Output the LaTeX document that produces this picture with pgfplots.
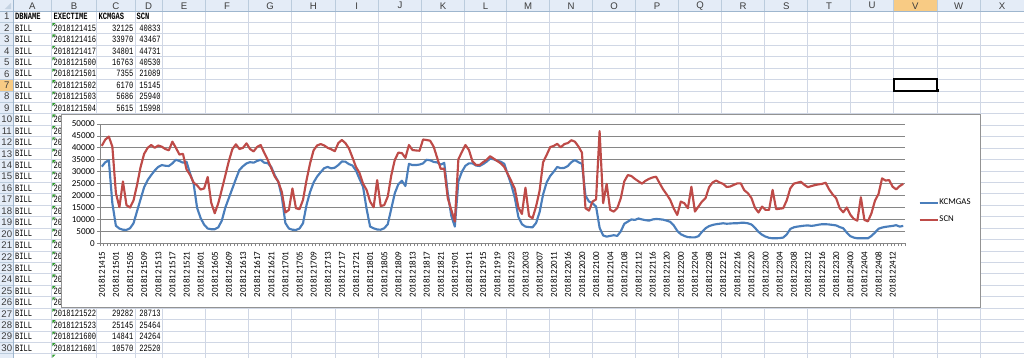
\documentclass[border=0pt]{standalone}
\usepackage{fontspec}
\usepackage{pgfplots}
\usepackage{pgfplotstable}
\pgfplotsset{compat=1.18}
\setmainfont{Carlito}
\newfontfamily\cellfont[FakeStretch=0.74]{Liberation Mono}
\newfontfamily\hdrfont{Liberation Sans}
\definecolor{kblue}{HTML}{4A7EBB}
\definecolor{sred}{HTML}{BE4B48}
\definecolor{xlgrid}{HTML}{D0D7E5}
\definecolor{xlhdr}{HTML}{E4ECF7}
\definecolor{xlhdrline}{HTML}{9EB6CE}
\definecolor{xlsel}{HTML}{F8CB84}
\definecolor{hdrtext}{HTML}{3C3C3C}
\definecolor{chgrid}{HTML}{868686}
\definecolor{xlgreen}{HTML}{2E9B2E}

\pgfplotstableread{
i k s
0 32125 40833
1 33970 43467
2 34801 44731
3 16763 40530
4 7355 21089
5 6170 15145
6 5686 25940
7 5615 15998
8 6300 15000
9 8400 18000
10 13500 24500
11 18500 32000
12 23500 37500
13 26500 40000
14 28600 41200
15 30500 40000
16 32000 41000
17 32800 40500
18 32500 39500
19 32400 39000
20 33500 42600
21 35000 40000
22 34500 37200
23 33800 37500
24 34200 31000
25 29282 28713
26 25145 25464
27 14841 24264
28 10570 22520
29 7800 23000
30 6200 27800
31 5900 17000
32 5900 12600
33 6700 16800
34 9500 22500
35 15000 28500
36 19000 34500
37 23000 39500
38 27000 41500
39 30800 39500
40 32300 40000
41 33500 41900
42 34000 39500
43 33800 38500
44 34500 40400
45 35000 41200
46 33800 38000
47 33600 35000
48 32000 31500
49 28500 28000
50 25800 25800
51 19500 21500
52 8500 12900
53 6200 14000
54 5700 23000
55 5600 14700
56 6200 14300
57 8400 18200
58 16100 26500
59 21500 33500
60 25500 39000
61 28000 41000
62 29800 41600
63 31500 41000
64 32000 40000
65 31400 39400
66 31700 38600
67 32800 42000
68 34300 43300
69 34200 42000
70 33200 39800
71 32600 36000
72 30500 32000
73 27000 29500
74 23700 25000
75 14500 22400
76 7000 17500
77 6300 15100
78 5800 26500
79 5700 15600
80 6300 16000
81 8000 19600
82 14500 28500
83 21000 35000
84 24800 38000
85 26200 37800
86 24000 35800
87 33300 41200
88 32800 39100
89 32800 38900
90 33000 38800
91 33500 43500
92 35000 43300
93 34800 43000
94 34100 40500
95 33900 35800
96 33000 31200
97 33700 31300
98 21000 18900
99 11500 14000
100 7000 9100
101 26000 35200
102 30000 38300
103 32500 41200
104 33500 39100
105 33500 34300
106 32600 32800
107 32400 32800
108 33200 34000
109 34200 35000
110 35500 36500
111 35200 35500
112 34600 34500
113 34200 33500
114 33300 32000
115 28800 29000
116 24500 26000
117 19000 22800
118 11000 15000
119 8000 12300
120 7000 23300
121 6800 11500
122 6700 10500
123 8500 15400
124 13000 22000
125 20500 34000
126 25500 37000
127 28200 40300
128 30000 40800
129 32000 41700
130 31500 40200
131 31600 41600
132 32400 42000
133 34000 43200
134 34900 42600
135 34000 40600
136 33300 38000
137 20000 14700
138 17500 13700
139 16800 17500
140 15400 18400
141 6500 47000
142 3300 16800
143 2800 24900
144 3100 14000
145 3400 13300
146 3100 14700
147 5000 18900
148 8200 26000
149 9100 28600
150 10000 28200
151 9800 27000
152 10400 26000
153 10000 25000
154 9700 26200
155 9500 27000
156 10000 27600
157 10200 27900
158 10100 25200
159 9900 22600
160 9500 20500
161 9000 18200
162 7500 14600
163 5200 11900
164 3800 17500
165 3100 16800
166 2600 14700
167 2500 23700
168 2500 13300
169 3000 15400
170 4800 17500
171 6300 18900
172 7200 23500
173 7700 25500
174 8000 26300
175 8200 25500
176 8400 24900
177 8200 23600
178 8300 23800
179 8400 24500
180 8400 25100
181 8600 25100
182 8600 22200
183 8400 21000
184 7900 19000
185 6500 14900
186 4800 12900
187 3600 15400
188 2800 14000
189 2300 14000
190 2100 22400
191 2100 14300
192 2200 14500
193 2400 14700
194 3700 18000
195 6000 23000
196 6700 25000
197 7000 25400
198 7200 25800
199 7400 24500
200 7500 23500
201 7300 24000
202 7500 24400
203 7800 24700
204 8000 24900
205 8000 25400
206 7900 22600
207 7700 20500
208 7500 18900
209 6800 14700
210 6300 13000
211 4500 15000
212 3000 12000
213 2400 10200
214 2100 9500
215 2100 19300
216 2100 9800
217 2100 9200
218 3100 12600
219 4500 17900
220 6100 20700
221 6600 27200
222 6900 26300
223 7100 26500
224 7300 23700
225 7600 22600
226 7000 24000
227 7300 24900
}\datatable

\newcommand\rowc[1]{10.9+(#1-0.5)*11.43}
\newcommand\rowt[1]{10.9+(#1-1)*11.43}
\newcommand\cellfs{\cellfont\fontsize{7.2}{8}\selectfont}

\begin{document}
\begin{tikzpicture}[x=0.75pt,y=-0.75pt]
\useasboundingbox (0,0) rectangle (1024,358);
\begin{scope}
\clip (0,0) rectangle (1024,358);
\fill[white] (0,0) rectangle (1024,358);
% headers
\fill[xlhdr] (0,0) rectangle (1024,10.9);
\fill[xlhdr] (0,0) rectangle (13,358);
\fill[xlsel] (893.7,0) rectangle (937,10.9);
\fill[xlsel] (0,{\rowt{7}}) rectangle (13,{\rowt{8}});
% sheet grid
\foreach \x in {51.7,96.7,135,162.3,205.7,248.3,291.7,335,378.3,421.7,464.3,506.7,549.3,592.7,635.3,678.7,721.3,764.7,807.7,850.3,893.7,937,980.3}
  {\draw[xlgrid, line width=0.6pt] (\x,10.9) -- (\x,358);
   \draw[xlhdrline!70, line width=0.6pt] (\x,0) -- (\x,10.9);}
\foreach \n in {2,...,32}
  {\draw[xlgrid, line width=0.6pt] (13,{\rowt{\n}}) -- (1024,{\rowt{\n}});
   \draw[xlhdrline!70, line width=0.6pt] (0,{\rowt{\n}}) -- (13,{\rowt{\n}});}
\draw[xlhdrline, line width=0.6pt] (0,10.9) -- (1024,10.9);
\draw[xlhdrline, line width=0.6pt] (13,0) -- (13,358);
\fill[xlhdrline!60] (11,9) -- (11,3) -- (4.8,9) -- cycle;
% column letters
\foreach \l/\c in {A/32.35,B/74.2,C/115.85,D/148.65,E/184,F/227,G/270,H/313.35,I/356.65,J/400,K/443,L/485.5,M/528,N/571,O/614,P/657,Q/700,R/743,S/786.2,T/829,U/872,V/915.35,W/958.65,X/1002}
  \node[font=\hdrfont\fontsize{7.2}{8}\selectfont, text=hdrtext, inner sep=0] at (\c,5.7) {\l};
% row numbers
\foreach \n in {1,...,30}
  \node[font=\hdrfont\fontsize{7.2}{8}\selectfont, text=hdrtext, inner sep=0] at (6.8,{\rowc{\n}}) {\n};
% header row of table
\node[font=\cellfs\bfseries, anchor=west, inner sep=0] at (14.8,{\rowc{1}}) {DBNAME};
\node[font=\cellfs\bfseries, anchor=west, inner sep=0] at (53.3,{\rowc{1}}) {EXECTIME};
\node[font=\cellfs\bfseries, anchor=west, inner sep=0] at (98.3,{\rowc{1}}) {KCMGAS};
\node[font=\cellfs\bfseries, anchor=west, inner sep=0] at (136.3,{\rowc{1}}) {SCN};
% data rows
\foreach \r/\d/\k/\s in {2/2018121415/32125/40833,3/2018121416/33970/43467,4/2018121417/34801/44731,5/2018121500/16763/40530,6/2018121501/7355/21089,7/2018121502/6170/15145,8/2018121503/5686/25940,9/2018121504/5615/15998,10/2018121505/6300/15000,11/2018121506/8400/18000,12/2018121507/13500/24500,13/2018121508/18500/32000,14/2018121509/23500/37500,15/2018121510/26500/40000,16/2018121511/28600/41200,17/2018121512/30500/40000,18/2018121513/32000/41000,19/2018121514/32800/40500,20/2018121515/32500/39500,21/2018121516/32400/39000,22/2018121517/33500/42600,23/2018121518/35000/40000,24/2018121519/34500/37200,25/2018121520/33800/37500,26/2018121521/34200/31000,27/2018121522/29282/28713,28/2018121523/25145/25464,29/2018121600/14841/24264,30/2018121601/10570/22520}
 {\node[font=\cellfs, anchor=west, inner sep=0] at (14.8,{\rowc{\r}}) {BILL};
  \node[font=\cellfs, anchor=west, inner sep=0] at (53.3,{\rowc{\r}}) {\d};
  \node[font=\cellfs, anchor=east, inner sep=0] at (133.6,{\rowc{\r}}) {\k};
  \node[font=\cellfs, anchor=east, inner sep=0] at (160.9,{\rowc{\r}}) {\s};
  \fill[xlgreen] (52.4,{\rowt{\r}+0.7}) -- ++(3.2,0) -- ++(-3.2,3.2) -- cycle;}
\fill[xlgreen] (52.4,{\rowt{31}+0.7}) -- ++(3.2,0) -- ++(-3.2,3.2) -- cycle;
% selected cell
\draw[black, line width=1.5pt] (893.7,{\rowt{7}}) rectangle (937,{\rowt{8}});
\fill[black] (935.5,{\rowt{8}-1.5}) rectangle (938.5,{\rowt{8}+1.5});
% chart area
\draw[fill=white, draw=gray!85, line width=0.7pt] (61.7,114.5) rectangle (980,307.3);
\end{scope}

\begin{axis}[
  at={(75pt,-182.475pt)}, anchor=south west,
  scale only axis, width=603.75pt, height=89.475pt,
  xmin=-0.5, xmax=227.5, ymin=0, ymax=50000,
  axis lines*=left, axis line style={chgrid, line width=0.6pt, -},
  ymajorgrids, grid style={chgrid, line width=0.6pt},
  scaled y ticks=false,
  ytick={0,5000,...,50000},
  yticklabels={0,5000,10000,15000,20000,25000,30000,35000,40000,45000,50000},
  xtick={0,4,...,224},
  xticklabels={2018121415,2018121501,2018121505,2018121509,2018121513,2018121517,2018121521,2018121601,2018121605,2018121609,2018121613,2018121617,2018121621,2018121701,2018121705,2018121709,2018121713,2018121717,2018121721,2018121801,2018121805,2018121809,2018121813,2018121817,2018121821,2018121901,2018121911,2018121915,2018121919,2018121923,2018122003,2018122007,2018122011,2018122016,2018122020,2018122100,2018122104,2018122108,2018122112,2018122116,2018122120,2018122200,2018122204,2018122208,2018122212,2018122216,2018122220,2018122300,2018122304,2018122308,2018122312,2018122316,2018122320,2018122400,2018122404,2018122408,2018122412},
  minor xtick={-0.5,0.5,...,227.5},
  tick align=outside,
  major tick length=2.2pt, minor tick length=2.2pt,
  major x tick style={draw=none},
  minor x tick style={chgrid, line width=0.5pt},
  major y tick style={chgrid, line width=0.6pt},
  tick label style={font=\fontsize{6.8}{8}\selectfont, text=black},
  xticklabel style={rotate=90, anchor=east, inner sep=3.8pt},
  yticklabel style={inner sep=1.5pt},
  /pgf/number format/assume math mode=true,
  legend style={draw=none, fill=none, at={(1.0165,0.268)}, anchor=west,
    font=\fontsize{6.6}{8}\selectfont, row sep=6pt, inner sep=0pt,
    nodes={inner sep=0.6pt}},
  legend cell align=left,
  legend image code/.code={\draw[#1] (0pt,0pt) -- (13.5pt,0pt);},
]
\addplot[kblue, line width=1.6pt, no marks, line join=round] table[x=i, y=k] {\datatable};
\addplot[sred, line width=1.6pt, no marks, line join=round] table[x=i, y=s] {\datatable};
\legend{KCMGAS, SCN}
\end{axis}
\end{tikzpicture}
\end{document}
